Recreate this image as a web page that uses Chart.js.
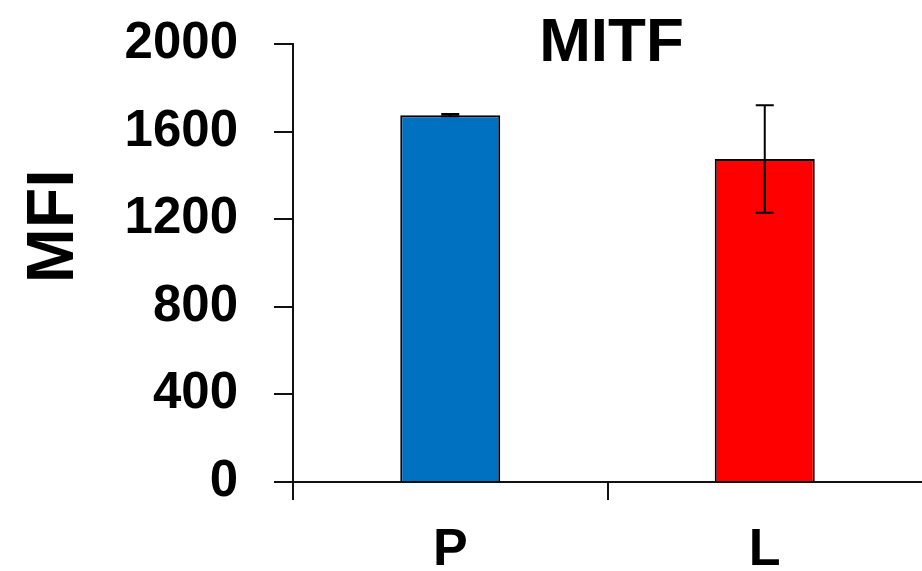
<!DOCTYPE html>
<html>
<head>
<meta charset="utf-8">
<script src="https://cdn.jsdelivr.net/npm/chart.js@4.4.1/dist/chart.umd.min.js"></script>
<style>
  html, body { margin: 0; padding: 0; background: #fff; }
  #wrap { width: 922px; height: 571px; position: relative; }
</style>
</head>
<body>
<div id="wrap"><canvas id="c" width="922" height="571"></canvas></div>
<script>
const chartTitle = "MITF";
const categories = ["P", "L"];
const mfiValues = [1675, 1475];
const mfiErrors = [5, 245];
const barColors = ["#0070C0", "#FF0000"];
const yTicks = [0, 400, 800, 1200, 1600, 2000];

const FONT = "'Liberation Sans', Arial, sans-serif";

const errorBarPlugin = {
  id: 'errorBars',
  afterDatasetsDraw(chart) {
    const ctx = chart.ctx;
    const meta = chart.getDatasetMeta(0);
    const yScale = chart.scales.y;
    ctx.save();
    ctx.strokeStyle = '#000';
    ctx.lineWidth = 2;
    meta.data.forEach((bar, i) => {
      const x = bar.x;
      const top = yScale.getPixelForValue(mfiValues[i] + mfiErrors[i]);
      const bot = yScale.getPixelForValue(mfiValues[i] - mfiErrors[i]);
      const cap = 9;
      ctx.beginPath();
      ctx.moveTo(x, top); ctx.lineTo(x, bot);
      ctx.moveTo(x - cap, top); ctx.lineTo(x + cap, top);
      ctx.moveTo(x - cap, bot); ctx.lineTo(x + cap, bot);
      ctx.stroke();
    });
    ctx.restore();
  }
};

const overlayTitlePlugin = {
  id: 'overlayTitle',
  afterDraw(chart) {
    const ctx = chart.ctx;
    const a = chart.chartArea;
    ctx.save();
    ctx.fillStyle = '#000';
    ctx.font = "bold 62px " + FONT;
    ctx.textAlign = 'center';
    ctx.textBaseline = 'middle';
    ctx.fillText(chartTitle, (a.left + a.right) / 2 + 4, a.top);
    ctx.restore();
  }
};

new Chart(document.getElementById('c'), {
  type: 'bar',
  data: {
    labels: categories,
    datasets: [{
      data: mfiValues,
      backgroundColor: barColors,
      borderColor: '#000',
      borderWidth: 2,
      categoryPercentage: 1.0,
      barPercentage: 0.318
    }]
  },
  options: {
    responsive: false,
    animation: false,
    layout: { padding: { left: 0, right: 0, top: 44, bottom: 0 } },
    plugins: {
      legend: { display: false },
      tooltip: { enabled: false },
      title: { display: false }
    },
    scales: {
      x: {
        offset: true,
        grid: {
          display: true, offset: true, drawOnChartArea: false, drawTicks: true, tickLength: 18,
          color: (c) => (c.type === 'tick' ? '#111' : 'rgba(0,0,0,0)'),
          lineWidth: 2
        },
        border: { display: true, color: '#111', width: 2 },
        ticks: { color: '#000', padding: 19, font: { family: FONT, size: 52, weight: 'bold', lineHeight: 1.2 } },
        afterFit(scale) { scale.height = 89; }
      },
      y: {
        min: 0,
        max: 2000,
        afterBuildTicks(scale) { scale.ticks = yTicks.map(v => ({ value: v })); },
        grid: { display: true, drawOnChartArea: false, drawTicks: true, tickLength: 19, color: '#111', lineWidth: 2 },
        border: { display: true, color: '#111', width: 2 },
        ticks: {
          color: '#000', padding: 36,
          font: { family: FONT, size: 51, weight: 'bold' },
          callback: (v) => String(v)
        },
        title: {
          display: true,
          text: '    MFI',
          color: '#000',
          font: { family: FONT, size: 66, weight: 'bold', lineHeight: 1 },
          padding: { top: 22, bottom: 0 }
        },
        afterFit(scale) {
          scale.width = 293;
          scale.paddingTop = 20;
          scale.paddingBottom = 20;
        }
      }
    }
  },
  plugins: [errorBarPlugin, overlayTitlePlugin]
});
</script>
</body>
</html>
